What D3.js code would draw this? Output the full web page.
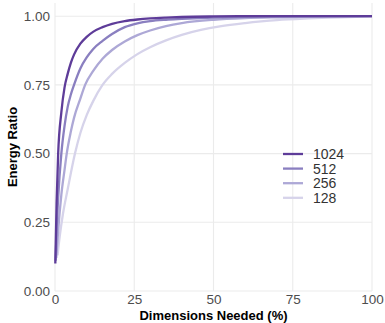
<!DOCTYPE html>
<html>
<head>
<meta charset="utf-8">
<script src="https://d3js.org/d3.v7.min.js"></script>
<style>
  body { margin: 0; background: #fff; }
  text { font-family: "Liberation Sans", Arial, sans-serif; }
</style>
</head>
<body>
<svg id="chart" width="385" height="323"></svg>
<script>
// values (x = % of dimensions, y = cumulative energy ratio)
const seriesNames = ["1024", "512", "256", "128"];
const seriesColors = ["#5e3c99", "#8a7fc0", "#ada8d6", "#d6d3ea"];

const x1024 = [0.1, 0.5, 1, 2, 3, 4, 5, 6, 8, 10, 12, 15, 18, 22, 26, 30, 35, 40, 50, 60, 70, 80, 100];
const y1024 = [0.10, 0.32, 0.50, 0.65, 0.74, 0.79, 0.83, 0.86, 0.90, 0.925, 0.943, 0.96, 0.972, 0.982, 0.988, 0.992, 0.995, 0.997, 0.999, 1.0, 1.0, 1.0, 1.0];

const x512 = [0.2, 0.5, 1, 2, 3, 4, 5, 6, 8, 10, 12, 15, 18, 22, 26, 30, 35, 40, 50, 60, 70, 80, 100];
const y512 = [0.11, 0.22, 0.34, 0.50, 0.60, 0.67, 0.715, 0.75, 0.81, 0.85, 0.88, 0.91, 0.935, 0.96, 0.974, 0.982, 0.987, 0.99, 0.995, 0.998, 0.999, 1.0, 1.0];

const x256 = [0.4, 1, 2, 3, 3.7, 5, 6, 8, 9.5, 12, 15, 18, 22, 26, 30, 35, 40, 50, 60, 70, 80, 100];
const y256 = [0.12, 0.22, 0.35, 0.44, 0.50, 0.58, 0.63, 0.70, 0.75, 0.80, 0.845, 0.877, 0.908, 0.931, 0.948, 0.964, 0.975, 0.987, 0.993, 0.996, 0.998, 1.0];

const x128 = [0.8, 1.5, 2.5, 4, 6.3, 8, 10, 12, 15, 18, 22, 26, 30, 35, 40, 46, 52, 60, 65, 70, 80, 90, 100];
const y128 = [0.13, 0.20, 0.28, 0.37, 0.50, 0.575, 0.64, 0.69, 0.75, 0.79, 0.83, 0.862, 0.887, 0.912, 0.932, 0.95, 0.963, 0.975, 0.981, 0.986, 0.992, 0.996, 1.0];

const xTicks = [0, 25, 50, 75, 100];
const yTicks = [0, 0.25, 0.5, 0.75, 1.0];

const series = [
  { name: "1024", xs: x1024, ys: y1024 },
  { name: "512", xs: x512, ys: y512 },
  { name: "256", xs: x256, ys: y256 },
  { name: "128", xs: x128, ys: y128 }
];

const svg = d3.select("#chart");
const plotLeft = 55, plotRight = 372, plotTop = 3, plotBottom = 291;

const x = d3.scaleLinear().domain([0, 100]).range([plotLeft, plotRight]);
const y = d3.scaleLinear().domain([0, 1.048]).range([plotBottom, plotTop]);
const color = d3.scaleOrdinal().domain(seriesNames).range(seriesColors);

// grid
svg.append("g").selectAll("line").data(xTicks).enter().append("line")
  .attr("x1", d => x(d)).attr("x2", d => x(d))
  .attr("y1", plotTop).attr("y2", plotBottom)
  .attr("stroke", "#ebebeb").attr("stroke-width", 1.1);
svg.append("g").selectAll("line").data(yTicks).enter().append("line")
  .attr("x1", plotLeft).attr("x2", plotRight)
  .attr("y1", d => y(d)).attr("y2", d => y(d))
  .attr("stroke", "#ebebeb").attr("stroke-width", 1.1);

// axes (labels only)
const xAxis = svg.append("g").attr("transform", `translate(0,${plotBottom})`)
  .call(d3.axisBottom(x).tickValues(xTicks).tickSize(0).tickPadding(3.5).tickFormat(d3.format("d")));
const yAxis = svg.append("g").attr("transform", `translate(${plotLeft},0)`)
  .call(d3.axisLeft(y).tickValues(yTicks).tickSize(0).tickPadding(5).tickFormat(d3.format(".2f")));
[xAxis, yAxis].forEach(a => {
  a.select(".domain").remove();
  a.selectAll("text").attr("font-size", "13.5px").attr("fill", "#4d4d4d")
    .attr("font-family", "Liberation Sans, Arial, sans-serif");
});

// lines, lightest first so darkest is on top
const line = d3.line().x(d => x(d[0])).y(d => y(d[1])).curve(d3.curveMonotoneX);
svg.append("g").selectAll("path").data(series.slice().reverse()).enter().append("path")
  .attr("d", s => line(d3.zip(s.xs, s.ys)))
  .attr("fill", "none")
  .attr("stroke", s => color(s.name))
  .attr("stroke-width", 2.3);

// axis titles
svg.append("text").attr("x", (plotLeft + plotRight) / 2).attr("y", 320)
  .attr("text-anchor", "middle").attr("font-size", "13px").attr("font-weight", "bold")
  .attr("fill", "#000").text("Dimensions Needed (%)");
svg.append("text").attr("transform", `translate(17,${(plotTop + plotBottom) / 2}) rotate(-90)`)
  .attr("text-anchor", "middle").attr("font-size", "13px").attr("font-weight", "bold")
  .attr("fill", "#000").text("Energy Ratio");

// legend
const legend = svg.append("g").attr("transform", "translate(283,154)");
const items = legend.selectAll("g").data(seriesNames).enter().append("g")
  .attr("transform", (d, i) => `translate(0,${i * 14.6})`);
items.append("line").attr("x1", 0).attr("x2", 20).attr("y1", 0).attr("y2", 0)
  .attr("stroke", d => color(d)).attr("stroke-width", 2.3);
items.append("text").attr("x", 30).attr("y", 0).attr("dy", "0.36em")
  .attr("font-size", "14px").attr("fill", "#333").text(d => d);
</script>
</body>
</html>
